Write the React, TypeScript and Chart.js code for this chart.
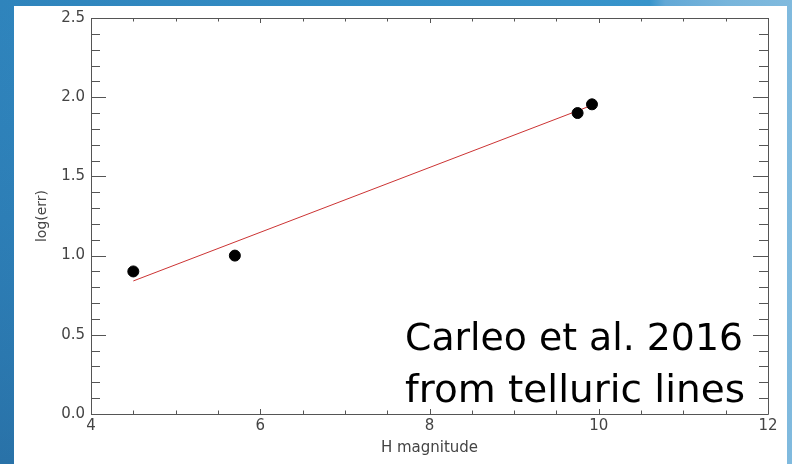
import React, { useEffect, useRef } from "react";
import { Chart, registerables } from "chart.js";

Chart.register(...registerables);

const pointX = [4.5, 5.7, 9.75, 9.92];
const pointY = [0.9, 1.0, 1.9, 1.955];
const fitX = [4.5, 9.9];
const fitY = [0.84, 1.945];
const xTickValues = [4, 6, 8, 10, 12];
const yTickValues = [0, 0.5, 1.0, 1.5, 2.0, 2.5];
const xTitle = "H magnitude";
const yTitle = "log(err)";
const noteLines = ["Carleo et al. 2016", "from telluric lines"];

const AXIS_COLOR = "#555555";
const LABEL_COLOR = "#444444";

const bgPlugin = {
  id: "bgPanel",
  beforeDraw(chart: any) {
    const { ctx, width, height } = chart;
    ctx.save();
    const g = ctx.createLinearGradient(0, 0, width, 0);
    g.addColorStop(0, "#2f84bc");
    g.addColorStop(0.82, "#3794cb");
    g.addColorStop(0.84, "#62a8d6");
    g.addColorStop(0.92, "#78b5db");
    g.addColorStop(1, "#80bade");
    ctx.fillStyle = g;
    ctx.fillRect(0, 0, width, height);
    const gv = ctx.createLinearGradient(0, 0, 0, height);
    gv.addColorStop(0, "rgba(40,110,170,0)");
    gv.addColorStop(1, "rgba(30,80,130,0.35)");
    ctx.fillStyle = gv;
    ctx.fillRect(0, 0, 14, height);
    ctx.fillStyle = "#ffffff";
    ctx.fillRect(14, 6, 773, height - 6);
    ctx.restore();
  },
};

const framePlugin = {
  id: "frameTicks",
  afterDraw(chart: any) {
    const { ctx, chartArea } = chart;
    const xs = chart.scales.x;
    const ys = chart.scales.y;
    const { left, right, top, bottom } = chartArea;
    ctx.save();
    ctx.strokeStyle = AXIS_COLOR;
    ctx.lineWidth = 1;
    ctx.beginPath();
    ctx.rect(Math.round(left) + 0.5, Math.round(top) + 0.5, Math.round(right - left), Math.round(bottom - top));
    ctx.stroke();
    ctx.beginPath();
    for (let i = 0; i <= 16; i++) {
      const v = 4 + i * 0.5;
      const px = Math.round(xs.getPixelForValue(v)) + 0.5;
      const len = i % 4 === 0 ? 5 : 3.5;
      ctx.moveTo(px, bottom);
      ctx.lineTo(px, bottom - len);
      ctx.moveTo(px, top);
      ctx.lineTo(px, top + len);
    }
    for (let i = 0; i <= 25; i++) {
      const v = i * 0.1;
      const py = Math.round(ys.getPixelForValue(v)) + 0.5;
      const len = i % 5 === 0 ? 15 : 9;
      ctx.moveTo(left, py);
      ctx.lineTo(left + len, py);
      ctx.moveTo(right, py);
      ctx.lineTo(right - len, py);
    }
    ctx.stroke();

    ctx.fillStyle = "#000000";
    ctx.font = "37px 'DejaVu Sans', sans-serif";
    ctx.textAlign = "left";
    ctx.textBaseline = "alphabetic";
    const targets = [338, 340];
    const baselines = [350, 402];
    noteLines.forEach((t, i) => {
      const w = ctx.measureText(t).width;
      const sx = w > 0 ? targets[i] / w : 1;
      ctx.save();
      ctx.translate(405, baselines[i]);
      ctx.scale(sx, 1);
      ctx.fillText(t, 0, 0);
      ctx.restore();
    });
    ctx.restore();
  },
};

export default function App() {
  const ref = useRef<HTMLCanvasElement | null>(null);
  useEffect(() => {
    if (!ref.current) return;
    const chart = new Chart(ref.current, {
      type: "scatter",
      data: {
        datasets: [
          {
            label: "data",
            data: pointX.map((x, i) => ({ x, y: pointY[i] })),
            backgroundColor: "#000000",
            borderColor: "#000000",
            pointRadius: 5.5,
            pointStyle: "circle",
            showLine: false,
            order: 1,
          },
          {
            label: "fit",
            data: fitX.map((x, i) => ({ x, y: fitY[i] })),
            borderColor: "#cc3333",
            backgroundColor: "#cc3333",
            borderWidth: 1,
            pointRadius: 0,
            showLine: true,
            order: 2,
          },
        ],
      },
      options: {
        responsive: false,
        animation: false,
        events: [],
        layout: { padding: { top: 18, right: 24, left: 0, bottom: 0 } },
        plugins: { legend: { display: false }, tooltip: { enabled: false } },
        scales: {
          x: {
            type: "linear",
            min: 4,
            max: 12,
            afterBuildTicks: (s: any) => {
              s.ticks = xTickValues.map((v) => ({ value: v }));
            },
            afterFit: (s: any) => {
              s.height = 50;
            },
            grid: { display: false, drawTicks: false, tickLength: 0 },
            border: { display: false },
            ticks: {
              color: LABEL_COLOR,
              font: { family: "'DejaVu Sans', sans-serif", size: 15 },
              padding: 3,
              maxRotation: 0,
              callback: (v: any) => String(v),
            },
            title: {
              display: true,
              text: xTitle,
              color: LABEL_COLOR,
              font: { family: "'DejaVu Sans', sans-serif", size: 15 },
              padding: { top: 0, bottom: 7 },
            },
          },
          y: {
            type: "linear",
            min: 0,
            max: 2.5,
            afterBuildTicks: (s: any) => {
              s.ticks = yTickValues.map((v) => ({ value: v }));
            },
            afterFit: (s: any) => {
              s.width = 91;
            },
            grid: { display: false, drawTicks: false, tickLength: 0 },
            border: { display: false },
            ticks: {
              color: LABEL_COLOR,
              font: { family: "'DejaVu Sans', sans-serif", size: 15 },
              padding: 6,
              callback: (v: any) => Number(v).toFixed(1),
            },
            title: {
              display: true,
              text: yTitle,
              color: LABEL_COLOR,
              font: { family: "'DejaVu Sans', sans-serif", size: 14 },
              padding: { top: 34, bottom: 0 },
            },
          },
        },
      },
      plugins: [bgPlugin, framePlugin],
    } as any);
    return () => chart.destroy();
  }, []);
  return (
    <div style={{ position: "absolute", left: 0, top: 0, width: 792, height: 464 }}>
      <canvas ref={ref} width={792} height={464} style={{ display: "block", width: 792, height: 464 }} />
    </div>
  );
}
